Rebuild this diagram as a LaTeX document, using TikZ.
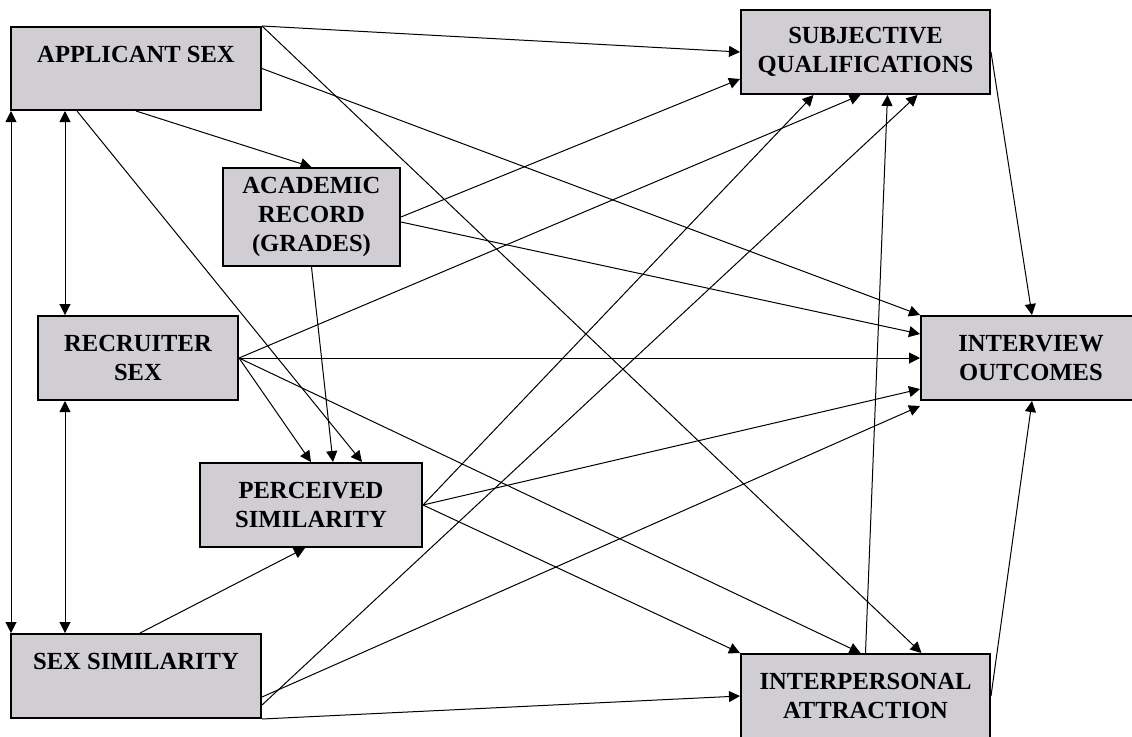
\documentclass[tikz,border=0pt]{standalone}
\usepackage{fontspec}
\setmainfont{Liberation Serif}
\usetikzlibrary{arrows.meta,calc}
\definecolor{boxgray}{RGB}{208,206,211}

\begin{document}
\begin{tikzpicture}[x=0.5pt, y=-0.5pt,
    >={Triangle[length=5.5pt, width=5.5pt]},
    box/.style={draw, line width=1pt, fill=boxgray, align=center,
        font=\fontsize{12.3}{14.6}\selectfont\bfseries}]

\useasboundingbox (0,0) rectangle (1132,736);

\begin{scope}[every node/.style={box}]
    \node[minimum width=125pt, minimum height=41.5pt] (appsex) at (136,68.5) {APPLICANT SEX\\~};
    \node[minimum width=124.5pt, minimum height=42pt] (subjq) at (865.5,52) {SUBJECTIVE\\QUALIFICATIONS};
    \node[minimum width=88.5pt, minimum height=49pt] (acad) at (311.5,217) {ACADEMIC\\RECORD\\(GRADES)};
    \node[minimum width=100pt, minimum height=42pt] (recsex) at (138,358) {RECRUITER\\SEX};
    \node[minimum width=110pt, minimum height=42pt] (outcome) at (1031,358) {INTERVIEW\\OUTCOMES};
    \node[minimum width=111pt, minimum height=42pt] (persim) at (311,505) {PERCEIVED\\SIMILARITY};
    \node[minimum width=125pt, minimum height=42pt] (sexsim) at (136,676) {SEX SIMILARITY\\~};
    \node[minimum width=124.5pt, minimum height=42pt] (attract) at (865.5,696) {INTERPERSONAL\\ATTRACTION};
\end{scope}

\begin{scope}[<->, line width=0.5pt]
    \draw ($(appsex.south west)+(1,0)$) -- ($(sexsim.north west)+(1,0)$);
    \draw ($(appsex.south west)+(55,0)$) -- ($(recsex.north west)+(28,0)$);
    \draw ($(recsex.south west)+(28,0)$) -- ($(sexsim.north west)+(55,0)$);
\end{scope}

\begin{scope}[->, line width=0.5pt]
    \draw (appsex.north east) -- (subjq.west);
    \draw (appsex.north east) -- ($(attract.north)+(56,0)$);
    \draw (appsex.east) -- (outcome.north west);
    \draw (appsex.south) -- (acad.north);
    \draw ($(appsex.south west)+(67,0)$) -- ($(persim.north)+(51,0)$);
    \draw (acad.east) -- ($(subjq.south west)+(0,-16)$);
    \draw ($(acad.east)+(0,5)$) -- ($(outcome.north west)+(0,19)$);
    \draw (acad.south) -- ($(persim.north)+(22,0)$);
    \draw (recsex.east) -- ($(subjq.south)+(-5,0)$);
    \draw (recsex.east) -- (outcome.west);
    \draw (recsex.east) -- (persim.north);
    \draw (recsex.east) -- ($(attract.north)+(-5,0)$);
    \draw (persim.east) -- ($(subjq.south)+(-52,0)$);
    \draw (persim.east) -- ($(outcome.south west)+(0,-12)$);
    \draw (persim.east) -- (attract.north west);
    \draw ($(sexsim.north)+(4,0)$) -- ($(persim.south)+(-6,0)$);
    \draw ($(sexsim.east)+(0,21)$) -- ($(outcome.south west)+(0,5)$);
    \draw ($(sexsim.south east)+(0,-14)$) -- ($(subjq.south)+(52,0)$);
    \draw (sexsim.south east) -- (attract.west);
    \draw (attract.north) -- ($(subjq.south)+(22,0)$);
    \draw (attract.east) -- ($(outcome.south)+(1,0)$);
    \draw (subjq.east) -- ($(outcome.north)+(1,0)$);
\end{scope}

\end{tikzpicture}
\end{document}
